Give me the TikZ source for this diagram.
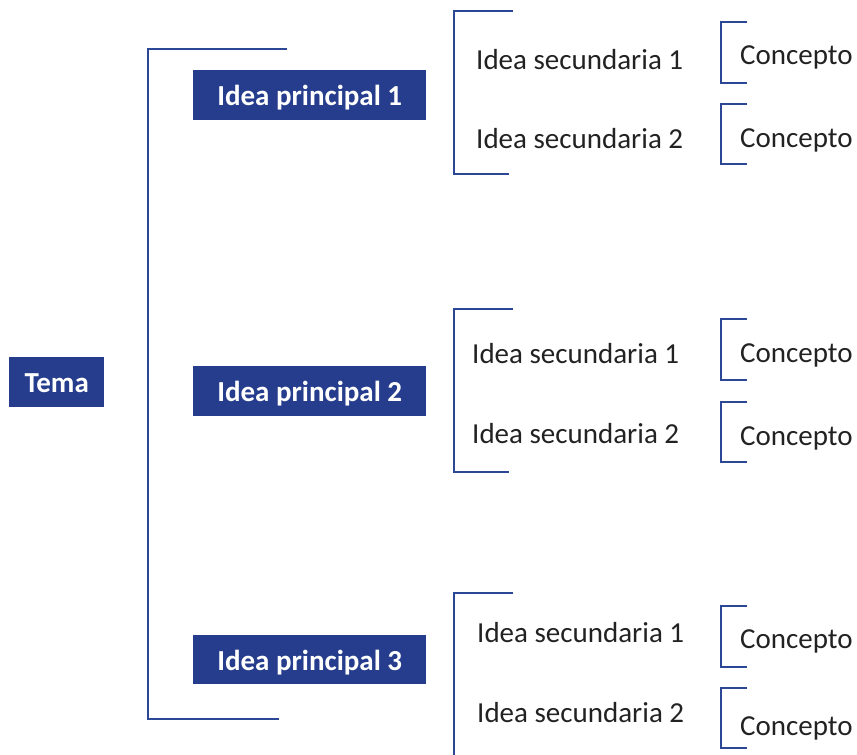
\documentclass[tikz,border=0pt]{standalone}
\usepackage{fontspec}
\setmainfont{Carlito}
\definecolor{boxblue}{HTML}{253D8C}
\definecolor{lineblue}{HTML}{2C4796}
\definecolor{txt}{HTML}{222222}
\begin{document}
\begin{tikzpicture}[x=1pt,y=-1pt,
  mainbox/.style={fill=boxblue,text=white,font=\fontsize{29}{34}\selectfont\bfseries,inner sep=0pt,text height=21pt,text depth=0pt,anchor=north west},
  sectext/.style={text=txt,font=\fontsize{29}{34}\selectfont,inner sep=0pt,anchor=base west},
  brk/.style={draw=lineblue,line width=2.7pt,line cap=butt,line join=miter}]
\useasboundingbox (0,0) rectangle (857,755);
% boxes
\node[mainbox,minimum width=95pt,minimum height=50pt] (tema) at (9,357) {Tema};
\node[mainbox,minimum width=233pt,minimum height=50pt] (p1) at (193,70) {Idea principal 1};
\node[mainbox,minimum width=233pt,minimum height=50pt] (p2) at (193,366) {Idea principal 2};
\node[mainbox,minimum width=233pt,minimum height=49pt] (p3) at (193,635) {Idea principal 3};
% main bracket
\draw[brk] (287,49) -- (148,49) -- (148,719) -- (279,719);
% group 1
\draw[brk] (513,11) -- (454,11) -- (454,174) -- (509,174);
\node[sectext] (s11) at (476,69) {Idea secundaria 1};
\node[sectext] (s12) at (476,148) {Idea secundaria 2};
\draw[brk] (747,22) -- (721,22) -- (721,83) -- (747,83);
\draw[brk] (747,104) -- (721,104) -- (721,164) -- (747,164);
\node[sectext] (c11) at (740,64) {Concepto};
\node[sectext] (c12) at (740,147) {Concepto};
% group 2
\draw[brk] (513,309) -- (454,309) -- (454,472) -- (509,472);
\node[sectext] (s21) at (472,363) {Idea secundaria 1};
\node[sectext] (s22) at (472,443) {Idea secundaria 2};
\draw[brk] (747,319) -- (721,319) -- (721,380) -- (747,380);
\draw[brk] (747,402) -- (721,402) -- (721,462) -- (747,462);
\node[sectext] (c21) at (740,362) {Concepto};
\node[sectext] (c22) at (740,445) {Concepto};
% group 3
\draw[brk] (513,593) -- (454,593) -- (454,760);
\node[sectext] (s31) at (477,642) {Idea secundaria 1};
\node[sectext] (s32) at (477,722) {Idea secundaria 2};
\draw[brk] (747,606) -- (721,606) -- (721,667) -- (747,667);
\draw[brk] (747,688) -- (721,688) -- (721,748) -- (747,748);
\node[sectext] (c31) at (740,648) {Concepto};
\node[sectext] (c32) at (740,735) {Concepto};
\end{tikzpicture}
\end{document}
